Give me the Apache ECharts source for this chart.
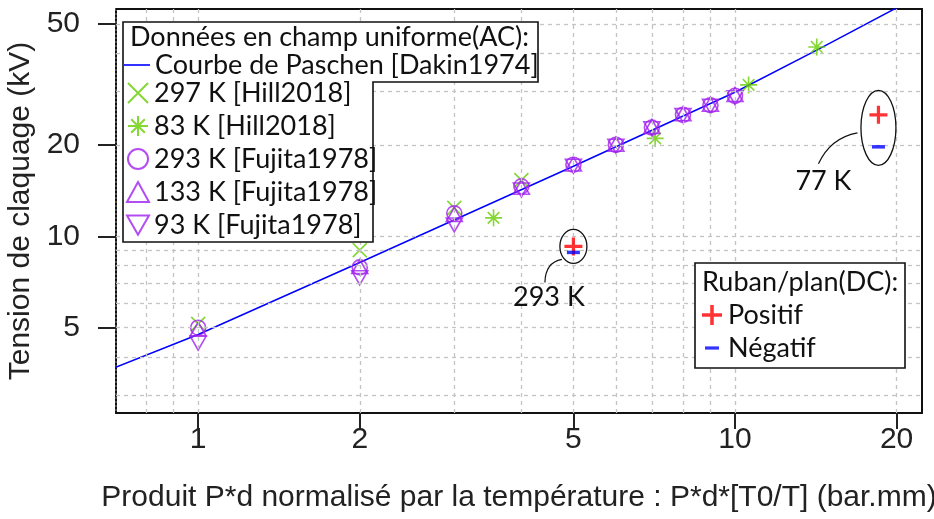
<!DOCTYPE html>
<html>
<head>
<meta charset="utf-8">
<script src="https://cdn.jsdelivr.net/npm/echarts@6/dist/echarts.min.js"></script>
<style>
  html, body { margin: 0; padding: 0; background: #ffffff; }
  #chart { width: 934px; height: 519px; }
</style>
</head>
<body>
<div id="chart"></div>
<script>
// ---- axis ranges, ticks and grid values ----
const xMin = 0.703, xMax = 22.3;
const yMin = 2.62, yMax = 56;
const xTicks = [1, 2, 5, 10, 20];
const yTicks = [5, 10, 20, 50];
const xGrid = [0.8, 0.9, 1, 2, 3, 4, 5, 6, 7, 8, 9, 10, 20];
const yGrid = [3, 4, 5, 6, 7, 8, 9, 10, 20, 30, 40, 50];

// ---- Paschen curve [Dakin1974] ----
const paschenX = [0.7, 1, 2, 5, 10, 14.2, 20];
const paschenY = [3.7, 4.75, 8.2, 17.0, 29.8, 41.0, 56.5];

// ---- Hill2018 ----
const hill297X = [1, 2, 3, 4];
const hill297Y = [5.15, 9.0, 12.4, 15.3];
const hill83X = [3.55, 7.1, 10.6, 14.2];
const hill83Y = [11.5, 21.0, 31.5, 42.0];

// ---- Fujita1978 ----
const fujitaX = [1, 2, 3, 4, 5, 6, 7, 8, 9, 10];
const fujita293Y = [5.0, 7.9, 11.9, 14.6, 17.2, 20.0, 22.8, 25.1, 27.0, 29.0];
const fujita133Y = [4.95, 7.95, 11.8, 14.5, 17.3, 20.1, 23.0, 25.3, 27.2, 29.3];
const fujita93Y = [4.45, 7.3, 10.9, 14.2, 17.0, 19.8, 22.6, 25.0, 26.8, 28.6];

// ---- strip/plane electrode, DC ----
const dcX = [5, 18.5];
const dcPosY = [9.26, 25.1];
const dcNegY = [8.85, 19.7];
const dcLabels = ['293 K', '77 K'];

// ---- names ----
const nPaschen = 'Courbe de Paschen [Dakin1974]';
const nH297 = '297 K [Hill2018]';
const nH83 = '83 K [Hill2018]';
const nF293 = '293 K [Fujita1978]';
const nF133 = '133 K [Fujita1978]';
const nF93 = '93 K [Fujita1978]';
const nPos = 'Positif';
const nNeg = 'Négatif';

const GREEN = '#66cd00', PURPLE = '#a020f0', BLUE = '#0000ff', RED = '#ff0000';
const AXIS_FONT = 'Liberation Sans';
const NOTE_FONT = 'Lato';

const crossPath = 'path://M0,0L10,10M10,0L0,10';
const starPath = 'path://M5,0L5,10M0,5L10,5M1.6,1.6L8.4,8.4M8.4,1.6L1.6,8.4';
const plusPath = 'path://M7.4,0H10.6V7.4H18V10.6H10.6V18H7.4V10.6H0V7.4H7.4Z';
const minusIcon = 'path://M0,0M1,8.4H15V11.6H1ZM16,20';
const lineIcon = 'path://M0,0M0,9.2H26V10.8H0ZM26,20';
const downTriIcon = 'path://M0,1L16,1L8,15Z';

const zip = (xs, ys) => xs.map((x, i) => [x, ys[i]]);

const hollow = (c) => ({ color: 'rgba(0,0,0,0)', borderColor: c, borderWidth: 1.6 });

const chart = echarts.init(document.getElementById('chart'));

const legendText = { fontFamily: NOTE_FONT, fontSize: 27, color: '#111' };

const baseGraphic = [
  {
    type: 'polygon', id: 'boxAC', z: 50,
    shape: { points: [[123, 22], [538, 22], [538, 82], [373, 82], [373, 242], [123, 242]] },
    style: { fill: '#ffffff', stroke: '#111', lineWidth: 1.6 }
  },
  {
    type: 'text', id: 'titleAC', z: 61, x: 130, y: 37,
    style: { text: 'Données en champ uniforme(AC):', font: '27px Lato', fill: '#111', verticalAlign: 'middle' }
  },
  {
    type: 'rect', id: 'boxDC', z: 50,
    shape: { x: 695, y: 263, width: 210, height: 105 },
    style: { fill: '#ffffff', stroke: '#111', lineWidth: 1.6 }
  },
  {
    type: 'text', id: 'titleDC', z: 61, x: 702, y: 282,
    style: { text: 'Ruban/plan(DC):', font: '27px Lato', fill: '#111', verticalAlign: 'middle' }
  }
];

const option = {
  animation: false,
  backgroundColor: '#ffffff',
  grid: { left: 116, right: 12, top: 9, bottom: 106, containLabel: false, outerBoundsMode: 'none' },
  xAxis: [
    {
      type: 'log', logBase: 10, min: xMin, max: xMax, position: 'bottom',
      name: 'Produit P*d normalisé par la température : P*d*[T0/T] (bar.mm)',
      nameLocation: 'middle', nameGap: 70,
      nameTextStyle: { fontFamily: AXIS_FONT, fontSize: 30, color: '#222' },
      axisLine: { show: true, onZero: false, lineStyle: { color: '#111', width: 2 } },
      axisTick: { show: true, inside: false, length: 16, customValues: xTicks, lineStyle: { color: '#222', width: 2 } },
      axisLabel: { show: true, margin: 12, customValues: xTicks, fontFamily: AXIS_FONT, fontSize: 30, color: '#222' },
      splitLine: { show: false }
    },
    {
      type: 'log', logBase: 10, min: xMin, max: xMax, position: 'top',
      axisLine: { show: true, onZero: false, lineStyle: { color: '#111', width: 2 } },
      axisTick: { show: false }, axisLabel: { show: false }, splitLine: { show: false }
    }
  ],
  yAxis: [
    {
      type: 'log', logBase: 10, min: yMin, max: yMax, position: 'left',
      name: 'Tension de claquage (kV)',
      nameLocation: 'middle', nameGap: 77, nameRotate: 90,
      nameTextStyle: { fontFamily: AXIS_FONT, fontSize: 30, color: '#222' },
      axisLine: { show: true, onZero: false, lineStyle: { color: '#111', width: 2, type: [2, 2] } },
      axisTick: { show: true, inside: false, length: 18, customValues: yTicks, lineStyle: { color: '#222', width: 2 } },
      axisLabel: { show: true, margin: 36, customValues: yTicks, fontFamily: AXIS_FONT, fontSize: 30, color: '#222' },
      splitLine: { show: false }
    },
    {
      type: 'log', logBase: 10, min: yMin, max: yMax, position: 'right',
      axisLine: { show: true, onZero: false, lineStyle: { color: '#111', width: 2 } },
      axisTick: { show: false }, axisLabel: { show: false }, splitLine: { show: false }
    }
  ],
  legend: [
    {
      data: [{ name: nPaschen, icon: lineIcon }], left: 124, top: 51.5, padding: 0, orient: 'vertical',
      itemWidth: 26, itemHeight: 20, selectedMode: false, textStyle: legendText, z: 60
    },
    {
      data: [nH297, nH83, nF293, nF133, { name: nF93, icon: downTriIcon }], left: 126, top: 79.5, padding: 0,
      orient: 'vertical', itemWidth: 22, itemHeight: 20, itemGap: 6,
      selectedMode: false, textStyle: legendText, z: 60
    },
    {
      data: [{ name: nPos }, { name: nNeg, icon: minusIcon }], left: 702, top: 301.5, padding: 0,
      orient: 'vertical', itemWidth: 22, itemHeight: 20, itemGap: 6,
      selectedMode: false, textStyle: legendText, z: 60
    }
  ],
  series: [
    {
      // dashed background grid
      type: 'line', data: [], silent: true, z: 1,
      markLine: {
        silent: true, symbol: 'none', animation: false,
        label: { show: false },
        lineStyle: { color: '#c4c4c4', width: 1.3, type: [4, 4] },
        emphasis: { disabled: true },
        data: xGrid.map(v => ({ xAxis: v })).concat(yGrid.map(v => ({ yAxis: v })))
      }
    },
    {
      name: nPaschen, type: 'line', data: zip(paschenX, paschenY),
      symbol: 'none', lineStyle: { color: BLUE, width: 1.5 }, itemStyle: { color: BLUE }, z: 3
    },
    {
      name: nH297, type: 'scatter', data: zip(hill297X, hill297Y),
      symbol: crossPath, symbolSize: 14, itemStyle: hollow(GREEN), z: 4
    },
    {
      name: nH83, type: 'scatter', data: zip(hill83X, hill83Y),
      symbol: starPath, symbolSize: 17, itemStyle: hollow(GREEN), z: 4
    },
    {
      name: nF293, type: 'scatter', data: zip(fujitaX, fujita293Y),
      symbol: 'circle', symbolSize: 15, itemStyle: hollow(PURPLE), z: 4
    },
    {
      name: nF133, type: 'scatter', data: zip(fujitaX, fujita133Y),
      symbol: 'triangle', symbolSize: [16, 14], itemStyle: hollow(PURPLE), z: 4
    },
    {
      name: nF93, type: 'scatter', data: zip(fujitaX, fujita93Y),
      symbol: 'triangle', symbolRotate: 180, symbolSize: [16, 14], itemStyle: hollow(PURPLE), z: 4
    },
    {
      name: nPos, type: 'scatter', data: zip(dcX, dcPosY),
      symbol: plusPath, symbolSize: 18, itemStyle: { color: RED }, z: 5
    },
    {
      name: nNeg, type: 'scatter', data: zip(dcX, dcNegY),
      symbol: 'rect', symbolSize: [13, 3.5], itemStyle: { color: BLUE }, z: 5
    }
  ],
  graphic: baseGraphic
};

chart.setOption(option);

// Ellipses and leader curves around the DC measurements, placed from the data.
const noteShape = [
  { dy: -3, rx: 13.5, ry: 17, from: [-11.5, 13], ctrl: [-28, 16], to: [-28.5, 36], text: [-24.5, 51] },
  { dy: -3, rx: 17.5, ry: 37.5, from: [-21, 5], ctrl: [-48, 10], to: [-60, 36], text: [-55, 53] }
];
const notes = [];
dcX.forEach((x, i) => {
  const pp = chart.convertToPixel({ gridIndex: 0 }, [x, dcPosY[i]]);
  const pn = chart.convertToPixel({ gridIndex: 0 }, [x, dcNegY[i]]);
  const s = noteShape[i];
  const cx = pp[0];
  const cy = (pp[1] + pn[1]) / 2 + s.dy;
  notes.push({
    type: 'ellipse', id: 'ring' + i, z: 20,
    shape: { cx: cx, cy: cy, rx: s.rx, ry: s.ry },
    style: { fill: 'none', stroke: '#111', lineWidth: 1.3 }
  });
  notes.push({
    type: 'bezierCurve', id: 'lead' + i, z: 20,
    shape: {
      x1: cx + s.from[0], y1: cy + s.from[1],
      cpx1: cx + s.ctrl[0], cpy1: cy + s.ctrl[1],
      x2: cx + s.to[0], y2: cy + s.to[1]
    },
    style: { fill: 'none', stroke: '#111', lineWidth: 1.2 }
  });
  notes.push({
    type: 'text', id: 'note' + i, z: 20, x: cx + s.text[0], y: cy + s.text[1],
    style: { text: dcLabels[i], font: '27px Lato', fill: '#111', align: 'center', verticalAlign: 'middle' }
  });
});
chart.setOption({ graphic: baseGraphic.concat(notes) });
</script>
</body>
</html>
